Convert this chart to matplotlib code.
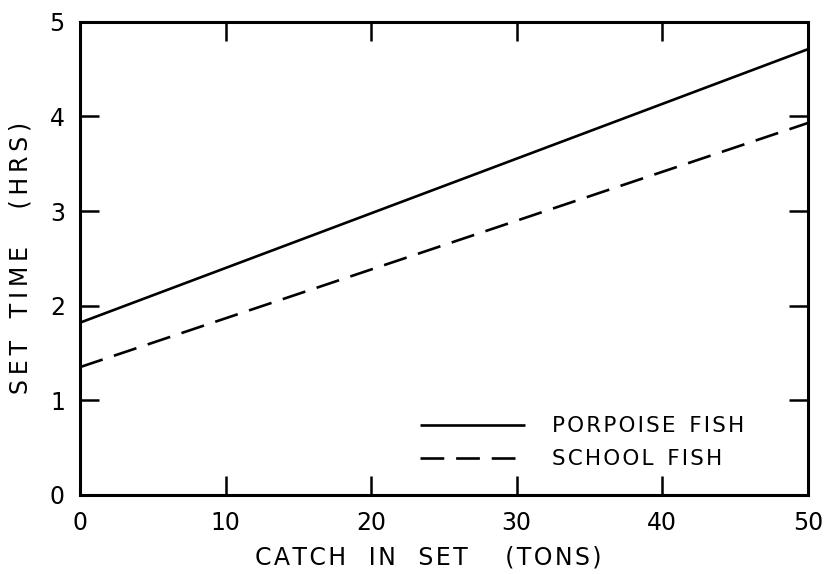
import matplotlib
matplotlib.use("Agg")
from matplotlib import pyplot as plt

# fitted lines: set time (hrs) vs catch (tons)
catch_tons = [0, 50]
porpoise_hrs = [1.82, 4.71]
school_hrs = [1.35, 3.93]

x_ticks = [0, 10, 20, 30, 40, 50]
y_ticks = [0, 1, 2, 3, 4, 5]

plt.rcParams["font.family"] = ["DejaVu Sans"]

HAIR = "\u200a"
THIN = "\u2009"


def spaced(text, sep=THIN):
    # old lettering-guide look: wide letter spacing
    return sep.join(text)


def words(*parts, gap="   ", sep=THIN):
    return gap.join(spaced(p, sep) for p in parts)


fig = plt.figure(figsize=(8.26, 5.74), dpi=100)
ax = fig.add_axes([0.097, 0.138, 0.881, 0.824])

ax.plot(catch_tons, porpoise_hrs, color="black", lw=1.9,
        label=words("PORPOISE", "FISH", gap="  ", sep=HAIR),
        solid_capstyle="butt")
ax.plot(catch_tons, school_hrs, color="black", lw=1.9, dashes=(9, 4.5),
        label=words("SCHOOL", "FISH", gap="  ", sep=HAIR))

ax.set_xlim(0, 50)
ax.set_ylim(0, 5)
ax.set_xticks(x_ticks)
ax.set_yticks(y_ticks)
ax.tick_params(direction="in", length=13.5, width=1.8, labelsize=17,
               top=True, right=True)
ax.tick_params(axis="x", pad=12)
ax.tick_params(axis="y", pad=11)
for side in ax.spines.values():
    side.set_linewidth(2.2)

ax.set_xlabel(words("CATCH", "IN", "SET", sep=HAIR) + "     " + spaced("(TONS)", HAIR),
              fontsize=17)
ax.xaxis.set_label_coords(0.479, -0.108)
ax.set_ylabel(words("SET", "TIME") + "     " + spaced("(HRS)"),
              fontsize=17, labelpad=12)

ax.legend(loc="upper left", bbox_to_anchor=(0.467, 0.166), frameon=False,
          fontsize=15.5, handlelength=4.9, handletextpad=1.25, labelspacing=0.6,
          borderpad=0, borderaxespad=0)

fig.savefig("out.png", dpi=100)
